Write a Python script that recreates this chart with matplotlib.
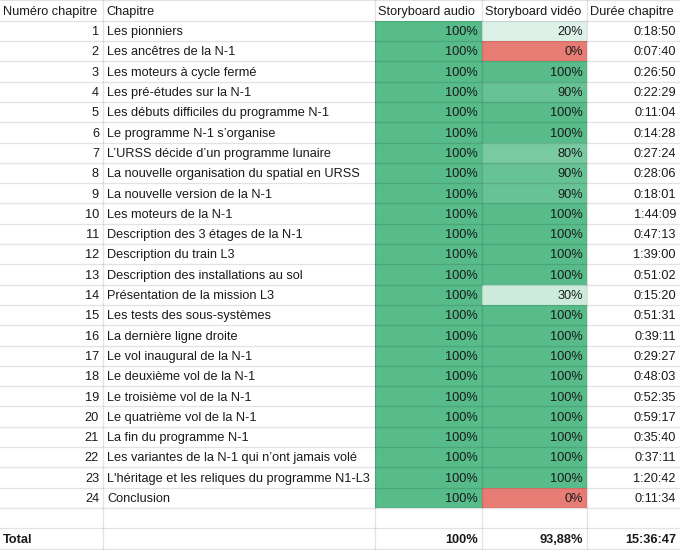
import matplotlib
matplotlib.use("Agg")
import matplotlib.pyplot as plt
from matplotlib.colors import LinearSegmentedColormap

plt.rcParams['font.family'] = ['Liberation Sans', 'DejaVu Sans']

headers = ["Numéro chapitre", "Chapitre", "Storyboard audio", "Storyboard vidéo", "Durée chapitre"]
chapters = [
    "Les pionniers", "Les ancêtres de la N-1", "Les moteurs à cycle fermé",
    "Les pré-études sur la N-1", "Les débuts difficiles du programme N-1",
    "Le programme N-1 s’organise", "L’URSS décide d’un programme lunaire",
    "La nouvelle organisation du spatial en URSS", "La nouvelle version de la N-1",
    "Les moteurs de la N-1", "Description des 3 étages de la N-1",
    "Description du train L3", "Description des installations au sol",
    "Présentation de la mission L3", "Les tests des sous-systèmes",
    "La dernière ligne droite", "Le vol inaugural de la N-1",
    "Le deuxième vol de la N-1", "Le troisième vol de la N-1",
    "Le quatrième vol de la N-1", "La fin du programme N-1",
    "Les variantes de la N-1 qui n’ont jamais volé",
    "L'héritage et les reliques du programme N1-L3", "Conclusion",
]
audio = [100] * 24
video = [20, 0, 100, 90, 100, 100, 80, 90, 90, 100, 100, 100,
         100, 30, 100, 100, 100, 100, 100, 100, 100, 100, 100, 0]
durations = ["0:18:50", "0:07:40", "0:26:50", "0:22:29", "0:11:04", "0:14:28",
             "0:27:24", "0:28:06", "0:18:01", "1:44:09", "0:47:13", "1:39:00",
             "0:51:02", "0:15:20", "0:51:31", "0:39:11", "0:29:27", "0:48:03",
             "0:52:35", "0:59:17", "0:35:40", "0:37:11", "1:20:42", "0:11:34"]
totals = ["Total", "", "100%", "93,88%", "15:36:47"]

# colonnes en pixels
col_edges = [0, 103, 375, 482, 587, 680]
row_h = 20.3
top0 = 20.7

fig = plt.figure(figsize=(6.8, 5.5), dpi=100)
ax = fig.add_axes([0, 0, 1, 1])
ax.set_xlim(0, 680)
ax.set_ylim(550, 0)
ax.axis('off')

scale = LinearSegmentedColormap.from_list('sc', ['#ffffff', '#57bb8a'])
red = '#e67c73'

def cell_color(v):
    if v == 0:
        return red
    return scale(v / 100)

n = len(chapters)
tops = [top0 + i * row_h for i in range(n)]
centers = [t + row_h / 2 for t in tops]

# cellules colorées
for j, vals in ((2, audio), (3, video)):
    ax.barh(centers, col_edges[j + 1] - col_edges[j], height=row_h,
            left=col_edges[j], color=[cell_color(v) for v in vals],
            edgecolor='none', zorder=1)

# quadrillage
hlines = [0.3, top0] + [top0 + (i + 1) * row_h for i in range(n + 2)]
for y in hlines:
    ax.plot([0, 680], [y, y], color='black', alpha=0.11, lw=0.9, zorder=2)
for x in col_edges[1:-1]:
    ax.plot([x, x], [0, 550], color='black', alpha=0.11, lw=0.9, zorder=2)

fs = 9.2
tc = '#1a1a1a'
pad = 4
dy = 1.3  # petit décalage vertical du texte
# en-tête
for j, h in enumerate(headers):
    ax.text(col_edges[j] + 3, top0 / 2 + dy, h, fontsize=fs, color=tc,
            ha='left', va='center', zorder=3)

for i in range(n):
    y = centers[i] + dy
    ax.text(col_edges[1] - pad, y, str(i + 1), fontsize=fs, color=tc, ha='right', va='center', zorder=3)
    ax.text(col_edges[1] + 4, y, chapters[i], fontsize=fs, color=tc, ha='left', va='center', zorder=3)
    ax.text(col_edges[3] - pad, y, f"{audio[i]}%", fontsize=fs, color=tc, ha='right', va='center', zorder=3)
    ax.text(col_edges[4] - pad, y, f"{video[i]}%", fontsize=fs, color=tc, ha='right', va='center', zorder=3)
    ax.text(col_edges[5] - pad, y, durations[i], fontsize=fs, color=tc, ha='right', va='center', zorder=3)

ty = top0 + (n + 1) * row_h + row_h / 2 + dy
ax.text(3, ty, totals[0], fontsize=fs, color=tc, ha='left', va='center', fontweight='bold')
for j in (2, 3, 4):
    ax.text(col_edges[j + 1] - pad, ty, totals[j], fontsize=fs, color=tc,
            ha='right', va='center', fontweight='bold')

fig.savefig('out.png', dpi=100)
